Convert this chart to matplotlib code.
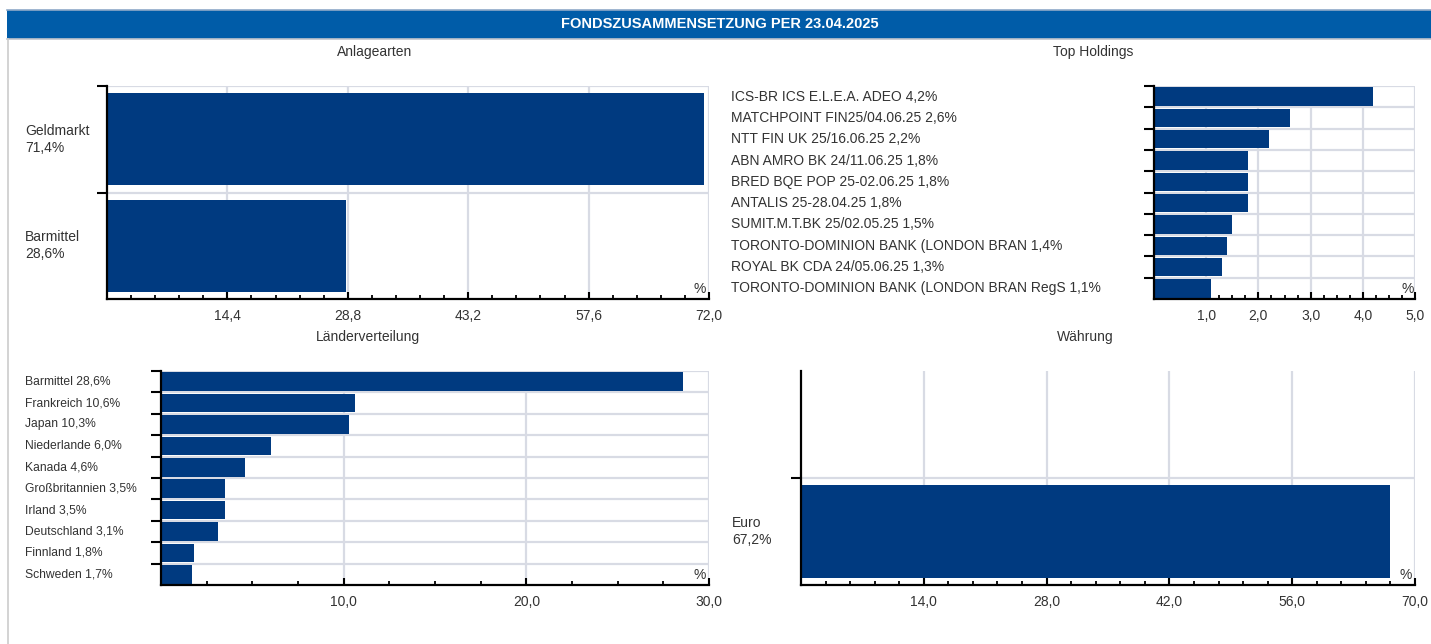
import numpy as np
import matplotlib
matplotlib.use('Agg')
import matplotlib.pyplot as plt
from matplotlib.ticker import FixedLocator, MultipleLocator, FuncFormatter
from matplotlib.transforms import blended_transform_factory
from matplotlib.patches import Rectangle
from matplotlib.lines import Line2D

plt.rcParams['font.family'] = ['Liberation Sans', 'DejaVu Sans']

title = 'FONDSZUSAMMENSETZUNG PER 23.04.2025'

anlage_names = ['Geldmarkt', 'Barmittel']
anlage_values = [71.4, 28.6]
anlage_ticks = [14.4, 28.8, 43.2, 57.6, 72.0]

holding_names = ['ICS-BR ICS E.L.E.A. ADEO', 'MATCHPOINT FIN25/04.06.25', 'NTT FIN UK 25/16.06.25',
                 'ABN AMRO BK 24/11.06.25', 'BRED BQE POP 25-02.06.25', 'ANTALIS 25-28.04.25',
                 'SUMIT.M.T.BK 25/02.05.25', 'TORONTO-DOMINION BANK (LONDON BRAN',
                 'ROYAL BK CDA 24/05.06.25', 'TORONTO-DOMINION BANK (LONDON BRAN RegS']
holding_values = [4.2, 2.6, 2.2, 1.8, 1.8, 1.8, 1.5, 1.4, 1.3, 1.1]
holding_ticks = [1.0, 2.0, 3.0, 4.0, 5.0]

land_names = ['Barmittel', 'Frankreich', 'Japan', 'Niederlande', 'Kanada', 'Großbritannien',
              'Irland', 'Deutschland', 'Finnland', 'Schweden']
land_values = [28.6, 10.6, 10.3, 6.0, 4.6, 3.5, 3.5, 3.1, 1.8, 1.7]
land_ticks = [10.0, 20.0, 30.0]

waehrung_names = ['Euro']
waehrung_values = [67.2]
waehrung_ticks = [14.0, 28.0, 42.0, 56.0, 70.0]

W, H = 1431, 644
BAR = '#003A80'
GRID = '#D8DBE4'
TXT = '#333333'

fig = plt.figure(figsize=(W / 100, H / 100), dpi=100)


def fx(px):
    return px / W


def fy(py):
    return 1 - py / H


def comma(v, pos=None):
    return f'{v:.1f}'.replace('.', ',')


def panel(box, names, values, ticks, minor, label_x, fontsize, two_line=False, nbands=None):
    x0, y0, x1, y1 = box
    ax = fig.add_axes([fx(x0), fy(y1), fx(x1) - fx(x0), fy(y0) - fy(y1)])
    n = len(names)
    nb = nbands or n
    # bars fill the bands from the bottom up when there are spare bands
    ys = [n - i - 0.5 for i in range(n)]
    ax.barh(ys, values, height=0.86, color=BAR, zorder=3)
    ax.set_xlim(0, ticks[-1])
    ax.set_ylim(0, nb)
    for s in ['top', 'right']:
        ax.spines[s].set_visible(False)
    for s in ['left', 'bottom']:
        ax.spines[s].set_color('black')
        ax.spines[s].set_linewidth(1.6)
        ax.spines[s].set_zorder(4)
    ax.xaxis.set_major_locator(FixedLocator(ticks))
    ax.xaxis.set_minor_locator(MultipleLocator(minor))
    ax.xaxis.set_major_formatter(FuncFormatter(comma))
    ax.tick_params(axis='x', which='major', direction='in', length=5, width=1.5,
                   labelsize=10, labelcolor=TXT, pad=7)
    ax.tick_params(axis='x', which='minor', direction='in', length=3, width=1.3)
    yt = list(range(1, n + 1))
    ax.set_yticks(yt)
    ax.set_yticklabels([])
    ax.tick_params(axis='y', direction='out', length=7, width=1.5)
    for t in ticks:
        ax.axvline(t, color=GRID, lw=1.6, zorder=1)
    for yv in yt:
        ax.axhline(yv, color=GRID, lw=1.6, zorder=1)
    ax.text(0.995, 0.015, '%', transform=ax.transAxes, ha='right', va='bottom',
            fontsize=10, color=TXT, zorder=5)
    tr = blended_transform_factory(fig.transFigure, ax.transData)
    for yv, nm, v in zip(ys, names, values):
        if two_line:
            lab = f'{nm}\n{comma(v)}%'
        else:
            lab = f'{nm} {comma(v)}%'
        ax.text(fx(label_x), yv, lab, transform=tr, ha='left', va='center',
                fontsize=fontsize, color=TXT, linespacing=1.25)
    return ax


# frame and header
fig.add_artist(Rectangle((fx(7), fy(38.5)), 1 - fx(7), fy(10) - fy(38.5),
                         transform=fig.transFigure, facecolor='#005CA8', edgecolor='none'))
fig.add_artist(Line2D([fx(7), 1], [fy(9.5), fy(9.5)], color='#8FA9C8', lw=1.2, transform=fig.transFigure))
fig.add_artist(Line2D([fx(7), 1], [fy(39), fy(39)], color='#C0C4CC', lw=1.2, transform=fig.transFigure))
fig.add_artist(Line2D([fx(7.5), fx(7.5)], [fy(39), 0], color='#CCCCCC', lw=1.2, transform=fig.transFigure))
fig.text(fx(720), fy(24), title, ha='center', va='center', color='white',
         fontsize=10.5, fontweight='bold')

fig.text(fx(375), fy(52), 'Anlagearten', ha='center', va='center', fontsize=10, color=TXT)
fig.text(fx(1093), fy(52), 'Top Holdings', ha='center', va='center', fontsize=10, color=TXT)
fig.text(fx(368), fy(337), 'Länderverteilung', ha='center', va='center', fontsize=10, color=TXT)
fig.text(fx(1085), fy(337), 'Währung', ha='center', va='center', fontsize=10, color=TXT)

panel((107, 86, 709, 299), anlage_names, anlage_values, anlage_ticks, 2.88, 25, 10, two_line=True)
panel((1154, 86, 1415, 299), holding_names, holding_values, holding_ticks, 0.25, 731, 10)
panel((161, 371, 709, 585), land_names, land_values, land_ticks, 2.5, 25, 8.7)
panel((801, 371, 1415, 585), waehrung_names, waehrung_values, waehrung_ticks, 2.8, 732, 10,
      two_line=True, nbands=2)

fig.savefig('out.png', dpi=100)
